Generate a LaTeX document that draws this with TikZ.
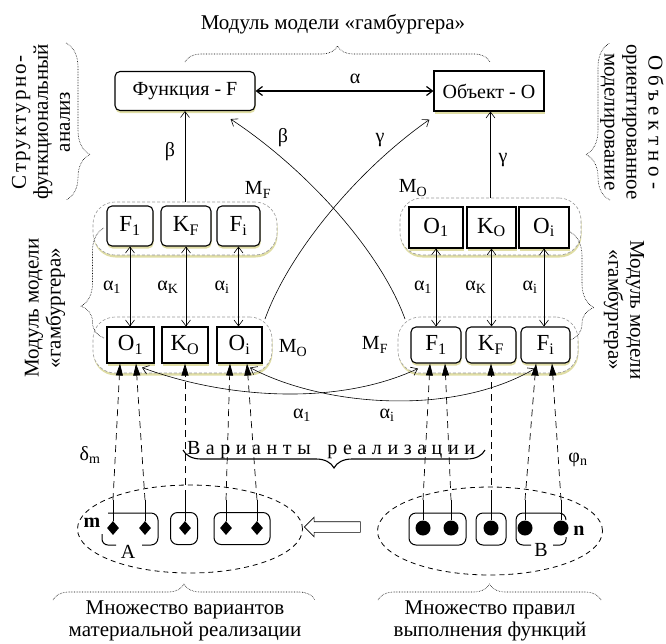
\documentclass[tikz,border=0pt]{standalone}
\usepackage{fontspec}
\setmainfont{Liberation Serif}
\usetikzlibrary{arrows.meta,shapes.arrows,shapes.geometric,decorations.pathreplacing,shadows,calc}
\begin{document}
\begin{tikzpicture}[x=1pt,y=-1pt,
  shd/.style={drop shadow={shadow xshift=0.5pt,shadow yshift=-2.5pt,fill=olive!40!white,opacity=0.7}},
  rbox/.style={draw,line width=1.1pt,rounded corners=5pt,fill=white,shd,inner sep=0pt,font=\fontsize{23}{24}\selectfont},
  sbox/.style={draw,line width=1.1pt,fill=white,shd,inner sep=0pt,font=\fontsize{23}{24}\selectfont},
  grp/.style={draw=gray!80,dash pattern=on 3pt off 2pt,line width=0.6pt,rounded corners=22pt,fill=white,shd},
  con/.style={line width=0.6pt},
  barb/.style={-{Straight Barb[length=6pt,width=9pt]}},
  dbarb/.style={{Straight Barb[length=6pt,width=9pt]}-{Straight Barb[length=6pt,width=9pt]}},
  lbl/.style={font=\fontsize{20}{22}\selectfont,inner sep=0pt},
  big/.style={font=\fontsize{21}{22}\selectfont,inner sep=0pt,align=center},
  dl/.style={line width=0.7pt,dash pattern=on 7pt off 5pt,-{Triangle[length=12pt,width=7pt]}},
  solidl/.style={line width=1pt},
  dia/.style={diamond,fill=black,minimum width=12pt,minimum height=14pt,inner sep=0pt},
  dot/.style={circle,fill=black,minimum size=15pt,inner sep=0pt},
  gbox/.style={draw,line width=1pt,rounded corners=7pt,minimum height=32pt},
  dbrace/.style={decorate,densely dotted,line width=0.6pt},
]
\useasboundingbox (0,0) rectangle (666,643);

% title and top brace
\node[big] (title) at (333,24) {Модуль модели «гамбургера»};
\draw[dbrace,decoration={brace,amplitude=16pt,aspect=0.5}] (185,62) -- (490,62);

% side texts
\node[big,rotate=90] (tl) at (41,122) {\makebox[134pt][s]{С\hfil т\hfil р\hfil у\hfil к\hfil т\hfil у\hfil р\hfil н\hfil о\hfil -}\\функциональный\\анализ};
\draw[dbrace,decoration={brace,amplitude=24pt,aspect=0.71}] (66,43) -- (66,200);
\node[big,rotate=-90] (tr) at (632,122) {\makebox[134pt][s]{О\hfil б\hfil ъ\hfil е\hfil к\hfil т\hfil н\hfil о\hfil -}\\ориентированное\\моделирование};
\draw[dbrace,decoration={brace,amplitude=24pt,aspect=0.29}] (610,200) -- (610,43);

\node[big,rotate=90] (ml) at (45,308) {Модуль модели\\«гамбургера»};
\node[big,rotate=-90] (mr) at (624,310) {Модуль модели\\«гамбургера»};

% top boxes
\node[rbox,minimum width=140pt,minimum height=39pt,font=\fontsize{20}{22}\selectfont] (fun) at (185,91) {Функция - F};
\node[sbox,minimum width=110pt,minimum height=40pt,font=\fontsize{20}{22}\selectfont] (obj) at (489,91) {Объект - O};
\draw[line width=1.2pt,dbarb] (fun.east) -- (obj.west);
\node[lbl] (lalpha) at (355,79) {α};

% groups
\node[grp,minimum width=184pt,minimum height=53pt] (gLF) at (185,228.5) {};
\node[grp,minimum width=179pt,minimum height=56pt] (gLO) at (182.5,345) {};
\node[grp,minimum width=181pt,minimum height=57pt] (gRO) at (490.5,226.5) {};
\node[grp,minimum width=180pt,minimum height=56pt] (gRF) at (488,345) {};

% braces of the middle modules
\draw[dbrace,decoration={brace,amplitude=23pt,aspect=0.29}] (104,338) -- (104,228);
\draw[dbrace,decoration={brace,amplitude=24pt,aspect=0.70}] (570,232) -- (570,340);

% boxes left
\node[rbox,minimum width=46pt,minimum height=40pt] (lF1) at (130,226) {F\textsubscript{1}};
\node[rbox,minimum width=50pt,minimum height=40pt] (lKF) at (186,226) {K\textsubscript{F}};
\node[rbox,minimum width=43pt,minimum height=40pt] (lFi) at (238.5,226) {F\textsubscript{i}};
\node[sbox,minimum width=47pt,minimum height=36pt] (lO1) at (130.5,345) {O\textsubscript{1}};
\node[sbox,minimum width=46pt,minimum height=36pt] (lKO) at (185,345) {K\textsubscript{O}};
\node[sbox,minimum width=45pt,minimum height=36pt] (lOi) at (239.5,345) {O\textsubscript{i}};
% boxes right
\node[sbox,minimum width=54pt,minimum height=41pt] (rO1) at (436,227.5) {O\textsubscript{1}};
\node[sbox,minimum width=49pt,minimum height=41pt] (rKO) at (491.5,227.5) {K\textsubscript{O}};
\node[sbox,minimum width=50pt,minimum height=41pt] (rOi) at (544,227.5) {O\textsubscript{i}};
\node[rbox,minimum width=50pt,minimum height=36pt] (rF1) at (436,345) {F\textsubscript{1}};
\node[rbox,minimum width=50pt,minimum height=36pt] (rKF) at (491,345) {K\textsubscript{F}};
\node[rbox,minimum width=49pt,minimum height=36pt] (rFi) at (545.5,345) {F\textsubscript{i}};

% M labels
\node[lbl] (mf1) at (258,190) {M\textsubscript{F}};
\node[lbl] (mo1) at (293,348) {M\textsubscript{O}};
\node[lbl] (mo2) at (413,188) {M\textsubscript{O}};
\node[lbl] (mf2) at (375,345) {M\textsubscript{F}};

% vertical double arrows
\draw[con,dbarb] (lF1.south) -- (lF1.south |- lO1.north);
\draw[con,dbarb] (lKF.south) -- (lKF.south |- lKO.north);
\draw[con,dbarb] (lFi.south) -- (lFi.south |- lOi.north);
\draw[con,dbarb] (rO1.south) -- (rO1.south |- rF1.north);
\draw[con,dbarb] (rKO.south) -- (rKO.south |- rKF.north);
\draw[con,dbarb] (rOi.south) -- (rOi.south |- rFi.north);
\node[lbl] (a1l) at (112,287) {α\textsubscript{1}};
\node[lbl] (aKl) at (168,287) {α\textsubscript{K}};
\node[lbl] (ail) at (222,287) {α\textsubscript{i}};
\node[lbl] (a1r) at (423,287) {α\textsubscript{1}};
\node[lbl] (aKr) at (476,287) {α\textsubscript{K}};
\node[lbl] (air) at (530,287) {α\textsubscript{i}};

% beta gamma verticals
\draw[con,barb] (gLF.north) -- (gLF.north |- fun.south);
\draw[con,barb] (gRO.north) -- (gRO.north |- obj.south);
\node[lbl] (b1) at (170,152) {β};
\node[lbl] (g1) at (503,160) {γ};

% crossing curves
\coordinate (gs) at (265,319);
\coordinate (ge) at ($(obj.south west)+(-4,8)$);
\draw[con,barb] (gs) .. controls (290,250) and (360,168) .. (ge);
\coordinate (bs) at (405,319);
\coordinate (be) at ($(fun.south east)+(-25,8)$);
\draw[con,barb] (bs) .. controls (380,250) and (305,168) .. (be);
\node[lbl] (b2) at (283,138) {β};
\node[lbl] (g2) at (380,140) {γ};

% lower crossing curves
\coordinate (c1a) at ($(lO1.south)+(11.5,4)$);
\coordinate (c1b) at ($(rF1.south)+(-18,5)$);
\draw[con,dbarb] (c1a) .. controls (230,400) and (340,405) .. (c1b);
\coordinate (c2a) at ($(lOi.south)+(10.5,4)$);
\coordinate (c2b) at ($(rFi.south)+(-10.5,5)$);
\draw[con,dbarb] (c2a) .. controls (320,405) and (450,418) .. (c2b);
\node[lbl] (a1b) at (302,415) {α\textsubscript{1}};
\node[lbl] (aib) at (387,415) {α\textsubscript{i}};

% bottom left set
\node[ellipse,draw,line width=0.8pt,dash pattern=on 5pt off 4pt,minimum width=225pt,minimum height=88pt] (eL) at (190,529) {};
\node[dia] (dm1) at (113,528) {};
\node[dia] (dm2) at (145,528) {};
\node[dia] (dm3) at (185,528) {};
\node[dia] (dm4) at (226,528) {};
\node[dia] (dm5) at (257,528) {};
\draw[solidl,rounded corners=7pt] (108,513) -- (158,513) -- (158,545) -- (142,545);
\draw[solidl,rounded corners=6pt] (102,534) -- (102,545) -- (116,545);
\node[gbox,minimum width=27pt] (bg2) at (184,528.5) {};
\node[gbox,minimum width=56pt] (bg3) at (242,528.5) {};
\node[lbl,font=\bfseries\fontsize{20}{22}\selectfont] (lm) at (92,523) {m};
\node[lbl] (lA) at (128,552) {A};

% bottom right set
\node[ellipse,draw,line width=0.8pt,dash pattern=on 5pt off 4pt,minimum width=225pt,minimum height=88pt] (eR) at (490,531) {};
\node[dot] (dt1) at (423,528) {};
\node[dot] (dt2) at (451,528) {};
\node[dot] (dt3) at (491,528) {};
\node[dot] (dt4) at (525,528) {};
\node[dot] (dt5) at (561,528) {};
\node[gbox,minimum width=57pt] (bh1) at (437.5,529) {};
\node[gbox,minimum width=30pt] (bh2) at (491,529) {};
\draw[solidl,rounded corners=7pt] (566,520) -- (566,513) -- (516,513) -- (516,545) -- (531,545);
\draw[solidl,rounded corners=6pt] (553,545) -- (566,545) -- (566,537);
\node[lbl,font=\bfseries\fontsize{20}{22}\selectfont] (ln) at (579,531) {n};
\node[lbl] (lB) at (541,550) {B};

% break points and connectors
\coordinate (k1) at (113,500); \coordinate (k2) at (145,500); \coordinate (k3) at (185,497);
\coordinate (k4) at (226,500); \coordinate (k5) at (257,500);
\coordinate (q1) at (423,500); \coordinate (q2) at (451,500); \coordinate (q3) at (491,497);
\coordinate (q4) at (525,500); \coordinate (q5) at (561,500);
\draw[dl] (k1) -- ($(lO1.south)+(-10.5,0)$);
\draw[dl] (k2) -- ($(lO1.south)+(5.5,0)$);
\draw[dl] (k3) -- (lKO.south);
\draw[dl] (k4) -- ($(lOi.south)+(-9.5,0)$);
\draw[dl] (k5) -- ($(lOi.south)+(7.5,0)$);
\draw[dl] (q1) -- ($(rF1.south)+(-6,0)$);
\draw[dl] (q2) -- ($(rF1.south)+(9,0)$);
\draw[dl] (q3) -- (rKF.south);
\draw[dl] (q4) -- ($(rFi.south)+(-9.5,0)$);
\draw[dl] (q5) -- ($(rFi.south)+(6.5,0)$);
\draw[solidl] (k1) -- (dm1.north); \draw[solidl] (k2) -- (dm2.north); \draw[solidl] (k3) -- (dm3.north);
\draw[solidl] (k4) -- (dm4.north); \draw[solidl] (k5) -- (dm5.north);
\draw[solidl] (q1) -- (dt1.north); \draw[solidl] (q2) -- (dt2.north); \draw[solidl] (q3) -- (dt3.north);
\draw[solidl] (q4) -- (dt4.north); \draw[solidl] (q5) -- (dt5.north);

% hollow arrow
\node[single arrow,draw,line width=0.6pt,shape border rotate=180,minimum height=56pt,minimum width=19pt,single arrow head extend=4.5pt,inner sep=5pt] (harr) at (335,527) {};

% variants text and brace
\node[lbl] (var) at (331,450) {\makebox[288pt][s]{В\hfil а\hfil р\hfil и\hfil а\hfil н\hfil т\hfil ы\hfil\hfil\hfil р\hfil е\hfil а\hfil л\hfil и\hfil з\hfil а\hfil ц\hfil и\hfil и}};
\draw[decorate,line width=1.1pt,decoration={brace,amplitude=18pt,aspect=0.5}] (485,450) -- (183,450);
\node[lbl] (dm) at (90,455) {δ\textsubscript{m}};
\node[lbl] (fn) at (578,460) {φ\textsubscript{n}};

% bottom braces and texts
\draw[dbrace,decoration={brace,amplitude=16pt,aspect=0.5}] (53,600) -- (315,600);
\draw[dbrace,decoration={brace,amplitude=16pt,aspect=0.5}] (378,600) -- (601,600);
\node[big] (tbl) at (185,621) {Множество вариантов\\материальной реализации};
\node[big] (tbr) at (490,621) {Множество правил\\выполнения функций};
\end{tikzpicture}
\end{document}
